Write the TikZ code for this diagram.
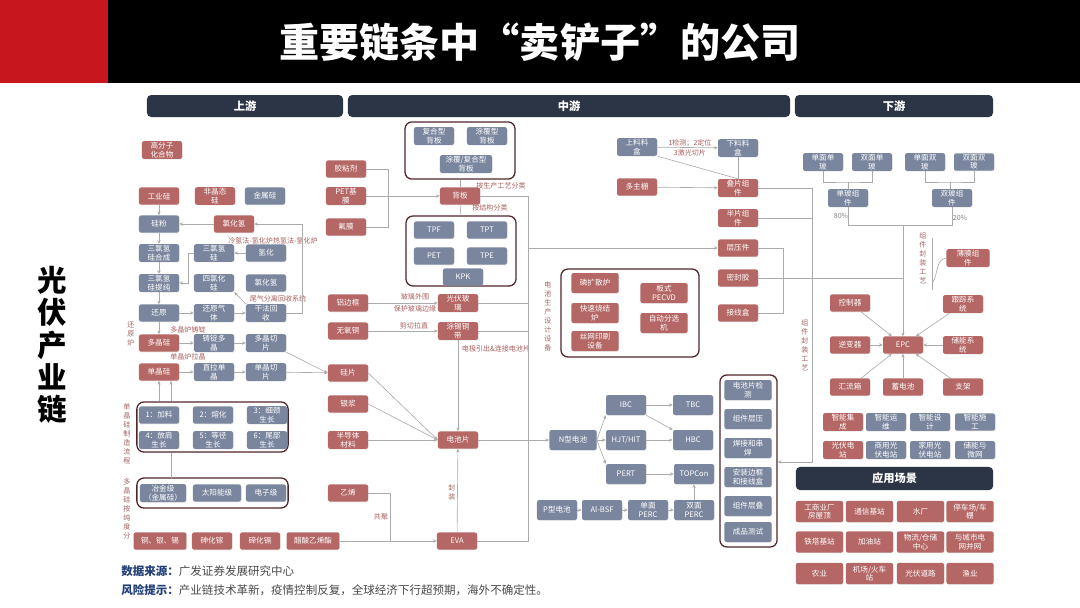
\documentclass[tikz,border=0pt]{standalone}
\usepackage{fontspec}
\setmainfont{Noto Sans CJK SC}
\usetikzlibrary{arrows.meta,positioning,shadows}
\definecolor{boxred}{HTML}{B46765}
\definecolor{boxblue}{HTML}{7A869E}
\definecolor{hdrdark}{HTML}{2C3545}
\definecolor{grpline}{HTML}{50262A}
\definecolor{lblred}{HTML}{A85E5C}
\definecolor{lnkgray}{HTML}{ABABAB}
\definecolor{titlered}{HTML}{C8161E}
\definecolor{srcblue}{HTML}{23407A}
\definecolor{srcgray}{HTML}{4A4A4A}

\begin{document}
\begin{tikzpicture}[x=0.025cm,y=-0.025cm,
  base/.style={rectangle,rounded corners=1.5pt,text=white,align=center,
               font=\fontsize{5.4}{6.1}\selectfont,
               minimum width=1cm,minimum height=0.43cm,inner sep=0.8pt,
               drop shadow={opacity=0.18,shadow xshift=0.4pt,shadow yshift=-0.5pt}},
  rbox/.style={base,fill=boxred},
  bbox/.style={base,fill=boxblue},
  wide/.style={minimum width=1.18cm,minimum height=0.5cm},
  grp/.style={draw=grpline,line width=0.9pt,rounded corners=5pt,fill=white,inner sep=0pt},
  hdr/.style={rectangle,rounded corners=3pt,fill=hdrdark,text=white,
              font=\fontsize{8}{9}\selectfont\bfseries,minimum height=0.55cm},
  lbl/.style={text=lblred,font=\fontsize{5}{5.8}\selectfont,inner sep=0.5pt,align=center},
  vlbl/.style={text=lblred!80!gray,font=\fontsize{5}{6.4}\selectfont,align=center,inner sep=0pt},
  ln/.style={draw=lnkgray,line width=0.45pt},
  arr/.style={ln,-{Stealth[length=2.6pt,width=2.4pt]}}
]
\useasboundingbox (0,0) rectangle (1080,607);
\fill[white] (0,0) rectangle (1080,607);

% title bar
\fill[black] (0,0) rectangle (1080,83);
\fill[titlered] (0,0) rectangle (108,83);
\node[text=white,font=\fontsize{28.5}{31}\selectfont\bfseries] (ttl) at (540,42) {重要链条中“卖铲子”的公司};
\node[font=\fontsize{21}{23}\selectfont\bfseries,align=center] (side) at (52,345) {光\\伏\\产\\业\\链};

% section headers
\node[hdr,minimum width=4.9cm] (up) at (245,106) {上游};
\node[hdr,minimum width=11.05cm] (mid) at (569,106) {中游};
\node[hdr,minimum width=4.95cm] (down) at (894,106) {下游};
\node[hdr,minimum width=4.93cm,minimum height=0.58cm] (app) at (894.5,478.5) {应用场景};

% groups
\node[grp,minimum width=3.78cm,minimum height=1.25cm] (djzz) at (212.5,427) {};
\node[grp,minimum width=3.78cm,minimum height=0.75cm] (cdgrp) at (212.5,493) {};
\node[grp,minimum width=2.75cm,minimum height=1.43cm] (bsgrp) at (460,150.5) {};
\node[grp,minimum width=2.75cm,minimum height=1.75cm] (stgrp) at (461,251) {};
\node[grp,minimum width=3.45cm,minimum height=2.2cm] (sbgrp) at (630,313) {};
\node[grp,minimum width=1.43cm,minimum height=4.3cm] (mkgrp) at (748.5,461) {};

% upstream
\node[rbox] (gfz) at (162,150) {高分子\\化合物};
\node[rbox] (gyg) at (159,196) {工业硅};
\node[rbox] (fjt) at (215,196) {非晶态\\硅};
\node[bbox] (jsg) at (265,196) {金属硅};
\node[bbox] (gf) at (159,224) {硅粉};
\node[rbox] (lhq) at (234,224) {氯化氢};
\node[bbox] (hcg) at (159,253) {三氯氢\\硅合成};
\node[bbox] (slqg) at (214,253) {三氯氢\\硅};
\node[bbox] (qh) at (266,253) {氢化};
\node[bbox] (tcg) at (159,283) {三氯氢\\硅提纯};
\node[bbox] (slhg) at (214,283) {四氯化\\硅};
\node[bbox] (lhqb) at (266,283) {氯化氢};
\node[bbox] (hy) at (159,313) {还原};
\node[bbox] (hyqt) at (214,313) {还原气\\体};
\node[bbox] (gfhs) at (266,313) {干法回\\收};
\node[rbox] (djg) at (159,343) {多晶硅};
\node[bbox] (zddj) at (214,343) {铸锭多\\晶};
\node[bbox] (djqp) at (266,343) {多晶切\\片};
\node[rbox] (danjg) at (159,372) {单晶硅};
\node[bbox] (zldj) at (214,372) {直拉单\\晶};
\node[bbox] (danqp) at (266,372) {单晶切\\片};
\node[lbl] (lqf) at (273,241) {冷氢法-氢化炉热氢法-氢化炉};
\node[lbl] (wqfl) at (278,299) {尾气分离回收系统};
\node[lbl] (djzd) at (188,330) {多晶炉铸锭};
\node[lbl] (djlj) at (188,357) {单晶炉拉晶};
\node[vlbl] (hylb) at (131,334) {还\\原\\炉};

\node[bbox] (bz1) at (159,415) {1：加料};
\node[bbox] (bz2) at (213,415) {2：熔化};
\node[bbox] (bz3) at (267,415) {3：细颈\\生长};
\node[bbox] (bz4) at (159,440) {4：放肩\\生长};
\node[bbox] (bz5) at (213,440) {5：等径\\生长};
\node[bbox] (bz6) at (267,440) {6：尾部\\生长};
\node[vlbl] (zzlb) at (127,434) {单\\晶\\硅\\制\\造\\流\\程};
\node[bbox,minimum width=1.15cm] (yjj) at (163,493) {冶金级\\（金属硅）};
\node[bbox,minimum width=1.2cm] (tyn) at (217,493) {太阳能级};
\node[bbox] (dzj) at (266,493) {电子级};
\node[vlbl] (cdlb) at (127,509) {多\\晶\\硅\\按\\纯\\度\\分};
\node[rbox,minimum width=1.32cm] (tyx) at (160,541) {铜、银、锡};
\node[rbox] (shj) at (212,541) {砷化镓};
\node[rbox] (dhg) at (260,541) {碲化镉};
\node[rbox,minimum width=1.32cm] (csyx) at (313,541) {醋酸乙烯酯};

% midstream: materials
\node[rbox] (jzj) at (346,169) {胶粘剂};
\node[rbox] (petm) at (346,196) {PET基\\膜};
\node[rbox] (fm) at (346,227) {氟膜};
\node[bbox] (fhx) at (434,136) {复合型\\背板};
\node[bbox] (tfx) at (487,136) {涂覆型\\背板};
\node[bbox,minimum width=1.3cm] (tffh) at (466,164) {涂覆/复合型\\背板};
\node[rbox] (bb) at (460,196) {背板};
\node[lbl] (scgy) at (501,186) {按生产工艺分类};
\node[lbl] (jgfl) at (490,208) {按结构分类};
\node[bbox] (kpf) at (434,230) {TPF};
\node[bbox] (tpt) at (487,230) {TPT};
\node[bbox] (pet) at (434,256) {PET};
\node[bbox] (tpe) at (487,256) {TPE};
\node[bbox] (kpk) at (463,277) {KPK};
\node[rbox] (lbk) at (348,303) {铝边框};
\node[rbox] (gfbl) at (458,303) {光伏玻\\璃};
\node[lbl] (blww) at (415,297) {玻璃外围};
\node[lbl] (bhby) at (415,309) {保护玻璃边缘};
\node[rbox] (wyt) at (348,331) {无氧铜};
\node[rbox] (txtd) at (458,331) {涂锡铜\\带};
\node[lbl] (jqlz) at (414,326) {剪切拉直};
\node[lbl] (djyc) at (496,349) {电极引出\&连接电池片};
\node[rbox] (gp) at (348,373) {硅片};
\node[rbox] (yj) at (348,404) {银浆};
\node[rbox] (bdt) at (348,440) {半导体\\材料};
\node[rbox] (dcp) at (458,440) {电池片};
\node[rbox] (yx) at (348,493) {乙烯};
\node[rbox] (eva) at (457,541) {EVA};
\node[lbl] (gj) at (381,517) {共聚};
\node[vlbl] (fzlb) at (452,492) {封\\装};
\node[vlbl] (sblb) at (548,316) {电\\池\\生\\产\\设\\计\\设\\备};

% midstream: equipment and cells
\node[rbox,wide] (lks) at (595,283) {磷扩散炉};
\node[rbox,wide] (ksl) at (595,313) {快速烧结\\炉};
\node[rbox,wide] (swys) at (595,341) {丝网印刷\\设备};
\node[rbox,wide] (bspe) at (664,293) {板式\\PECVD};
\node[rbox,wide] (zdfx) at (664,323) {自动分选\\机};
\node[bbox,wide] (ntype) at (573,440) {N型电池};
\node[bbox,minimum height=0.5cm] (ibc) at (626,405) {IBC};
\node[bbox,minimum height=0.5cm] (hjt) at (626,440) {HJT/HIT};
\node[bbox,minimum height=0.5cm] (pert) at (626,474) {PERT};
\node[bbox,minimum height=0.5cm] (tbc) at (693,405) {TBC};
\node[bbox,minimum height=0.5cm] (hbc) at (693,440) {HBC};
\node[bbox,minimum height=0.5cm] (topcon) at (694,474) {TOPCon};
\node[bbox,minimum height=0.5cm] (ptype) at (557,510) {P型电池};
\node[bbox,minimum height=0.5cm] (albsf) at (602,510) {Al-BSF};
\node[bbox,minimum height=0.5cm] (dmperc) at (648,510) {单面\\PERC};
\node[bbox,minimum height=0.5cm] (smperc) at (694,510) {双面\\PERC};

% midstream: modules
\node[bbox,wide] (dcjc) at (748,390) {电池片检\\测};
\node[bbox,wide] (zjcy) at (748,419) {组件层压};
\node[bbox,wide] (hjcj) at (748,448) {焊接和串\\焊};
\node[bbox,wide] (azbk) at (748,477) {安装边框\\和接线盒};
\node[bbox,wide] (zjcd) at (748,506) {组件层叠};
\node[bbox,wide] (cpcs) at (748,532) {成品测试};
\node[bbox] (sllh) at (637,147) {上料料\\盒};
\node[bbox] (xllh) at (738,148) {下料料\\盒};
\node[lbl] (jcdw) at (690,143) {1检测；2定位};
\node[lbl] (jgqp) at (690,153) {3激光切片};
\node[rbox] (dzs) at (637,187) {多主栅};
\node[rbox] (dpzj) at (738,188) {叠片组\\件};
\node[rbox] (bpzj) at (738,218) {半片组\\件};
\node[rbox] (cyj) at (738,248) {层压件};
\node[rbox] (mfj) at (738,278) {密封胶};
\node[rbox] (jxh) at (738,313) {接线盒};
\node[vlbl] (fzgy) at (805,345) {组\\件\\封\\装\\工\\艺};

% downstream
\node[bbox] (dmdb) at (823,162) {单面单\\玻};
\node[bbox] (smdb) at (872,162) {双面单\\玻};
\node[bbox] (dmsb) at (925,162) {单面双\\玻};
\node[bbox] (smsb) at (974,162) {双面双\\玻};
\node[bbox] (dbzj) at (848,198) {单玻组\\件};
\node[bbox] (sbzj) at (952,198) {双玻组\\件};
\node[lbl,text=gray] (p80) at (841,216) {80\%};
\node[lbl,text=gray] (p20) at (960,218) {20\%};
\node[vlbl] (fzgyb) at (923,258) {组\\件\\封\\装\\工\\艺};
\node[rbox,minimum width=1.08cm] (bmzj) at (968,258) {薄膜组\\件};
\node[rbox] (kzq) at (850,303) {控制器};
\node[rbox] (gzxt) at (963,304) {跟踪系\\统};
\node[rbox] (nbq) at (850,345) {逆变器};
\node[rbox] (epc) at (903,345) {EPC};
\node[rbox] (cnxt) at (963,345) {储能系\\统};
\node[rbox] (hlx) at (850,387) {汇流箱};
\node[rbox] (xdc) at (903,387) {蓄电池};
\node[rbox] (zjia) at (963,387) {支架};
\node[rbox] (znjc) at (843,422) {智能集\\成};
\node[bbox] (znyw) at (886,422) {智能运\\维};
\node[bbox] (znsj) at (930,422) {智能设\\计};
\node[bbox] (znsg) at (975,422) {智能施\\工};
\node[rbox] (gfdz) at (843,450) {光伏电\\站};
\node[bbox] (syzd) at (886,450) {商用光\\伏电站};
\node[bbox] (jyzd) at (930,450) {家用光\\伏电站};
\node[bbox] (cnwd) at (975,450) {储能与\\微网};

% application scenes
\node[rbox,wide,minimum height=0.53cm] (cjwd) at (819.5,511.5) {工商业厂\\房屋顶};
\node[rbox,wide,minimum height=0.53cm] (txjz) at (869.5,511.5) {通信基站};
\node[rbox,wide,minimum height=0.53cm] (sc) at (920.5,511.5) {水厂};
\node[rbox,wide,minimum height=0.53cm] (tcc) at (970,511.5) {停车场/车\\棚};
\node[rbox,wide,minimum height=0.53cm] (ttjz) at (819.5,542) {铁塔基站};
\node[rbox,wide,minimum height=0.53cm] (jyz) at (869.5,542) {加油站};
\node[rbox,wide,minimum height=0.53cm] (wlcc) at (920.5,542) {物流/仓储\\中心};
\node[rbox,wide,minimum height=0.53cm] (cswbw) at (970,542) {与城市电\\网并网};
\node[rbox,wide,minimum height=0.53cm] (ny) at (819.5,573.5) {农业};
\node[rbox,wide,minimum height=0.53cm] (jchc) at (869.5,573.5) {机场/火车\\站};
\node[rbox,wide,minimum height=0.53cm] (gfdl) at (920.5,573.5) {光伏道路};
\node[rbox,wide,minimum height=0.53cm] (yy) at (970,573.5) {渔业};

% footer
\node[anchor=west,inner sep=0pt,font=\fontsize{8.2}{9}\selectfont] (src) at (121,571)
  {\textcolor{srcblue}{\bfseries 数据来源：}\textcolor{srcgray}{广发证券发展研究中心}};
\node[anchor=west,inner sep=0pt,font=\fontsize{8.2}{9}\selectfont] (risk) at (121,590)
  {\textcolor{srcblue}{\bfseries 风险提示：}\textcolor{srcgray}{产业链技术革新，疫情控制反复，全球经济下行超预期，海外不确定性。}};

% upstream links
\coordinate (hsup) at (302,224);
\draw[arr] (gyg) -- (gf);
\draw[arr] (lhq) -- (gf);
\draw[arr] (gf) -- (hcg);
\draw[arr] (hcg) -- (tcg);
\draw[arr] (tcg) -- (hy);
\draw[arr] (hy) -- (djg);
\draw[arr] (hy) -- (hyqt);
\draw[arr] (hyqt) -- (gfhs);
\draw[arr] (gfhs.east) -| (hsup) -- (lhq.east);
\draw[arr] (qh) -- (slqg);
\draw[arr] (slqg.west) -- ++(-5,0) |- (tcg.east);
\draw[arr] (gfhs.north west) -- (slhg.south east);
\draw[arr] (djg) -- (zddj);
\draw[arr] (zddj) -- (djqp);
\draw[arr] (danjg) -- (zldj);
\draw[arr] (zldj) -- (danqp);
\draw[arr] (djqp.south east) -- (gp.west);
\draw[arr] (danqp) -- (gp);
\coordinate (cdtop) at (171,478);
\draw[arr] (djzz.north -| danjg) -- (danjg);
\draw[ln] (cdtop) -- (cdtop |- djzz.south);
\draw[arr] (djzz.north -| cdtop) -- (danjg.south -| cdtop);

% midstream links
\coordinate (bkt) at (388,196);
\coordinate (busb) at (528,541);
\coordinate (cjbot) at (390,541);
\draw[ln] (jzj.east) -| (bkt);
\draw[ln] (fm.east) -| (bkt);
\draw[arr] (petm) -- (bb);
\draw[ln] (bsgrp.south) -- (bb.north);
\draw[ln] (bb.south) -- (stgrp.north);
\draw[ln] (bb.east) -| (busb) -- (eva.east);
\draw[ln] (gfbl.east) -- (gfbl.east -| busb);
\draw[ln] (txtd.east) -- (txtd.east -| busb);
\draw[arr] (busb |- cyj) -- (cyj.west);
\draw[arr] (lbk) -- (gfbl);
\draw[arr] (wyt) -- (txtd);
\draw[arr] (txtd) -- (dcp);
\draw[arr] (gp.east) -- (dcp.west);
\draw[arr] (yj.east) -- (dcp.west);
\draw[arr] (bdt) -- (dcp);
\draw[arr] (eva) -- (dcp);
\draw[ln] (yx.east) -| (cjbot);
\draw[arr] (csyx) -- (eva);
\draw[arr] (dcp) -- (ntype);
\draw[arr] (ntype.east) -- (ibc.south west);
\draw[arr] (ntype) -- (hjt);
\draw[arr] (ntype.east) -- (pert.north west);
\draw[arr] (ibc) -- (tbc);
\draw[arr] (ibc.south east) -- (hbc.north west);
\draw[arr] (hjt) -- (hbc);
\draw[arr] (pert) -- (topcon);
\draw[arr] (ptype) -- (albsf);
\draw[arr] (albsf) -- (dmperc);
\draw[arr] (dmperc) -- (smperc);
\draw[arr] (smperc) -- (topcon);

% module links
\coordinate (busm) at (812,462);
\coordinate (jxhk) at (783,313);
\coordinate (epcin) at (903,278);
\coordinate (pctm) at (903,225);
\draw[arr] (sllh) -- (xllh);
\draw[ln] (sllh.south east) -- (dpzj.north);
\draw[ln] (xllh) -- (dpzj);
\draw[arr] (dzs) -- (dpzj);
\draw[arr] (dpzj.east) -| (busm) -- (busm -| mkgrp.east);
\draw[ln] (bpzj.east) -- (bpzj.east -| busm);
\draw[ln] (cyj.east) -| (jxhk) -- (jxh.east);
\draw[ln] (mfj.east) -- (epcin);

% downstream links
\coordinate (tpa) at (848,182);
\coordinate (tpb) at (950,182);
\draw[ln] (dmdb.south) |- (tpa) -| (smdb.south);
\draw[ln] (tpa) -- (dbzj.north);
\draw[ln] (dmsb.south) |- (tpb) -| (smsb.south);
\draw[ln] (tpb) -- (tpb |- sbzj.north);
\draw[ln] (dbzj.south) |- (sbzj.south |- pctm) -- (sbzj.south);
\draw[arr] (pctm) -- (epc.north);
\draw[ln] (932,238) -- (932,290);
\draw[ln] (bmzj.west) to[out=190,in=60] (933,282);
\draw[arr] (kzq) -- (epc);
\draw[arr] (gzxt) -- (epc);
\draw[arr] (nbq) -- (epc);
\draw[arr] (cnxt) -- (epc);
\draw[arr] (hlx) -- (epc);
\draw[arr] (xdc) -- (epc);
\draw[arr] (zjia) -- (epc);
\end{tikzpicture}
\end{document}
